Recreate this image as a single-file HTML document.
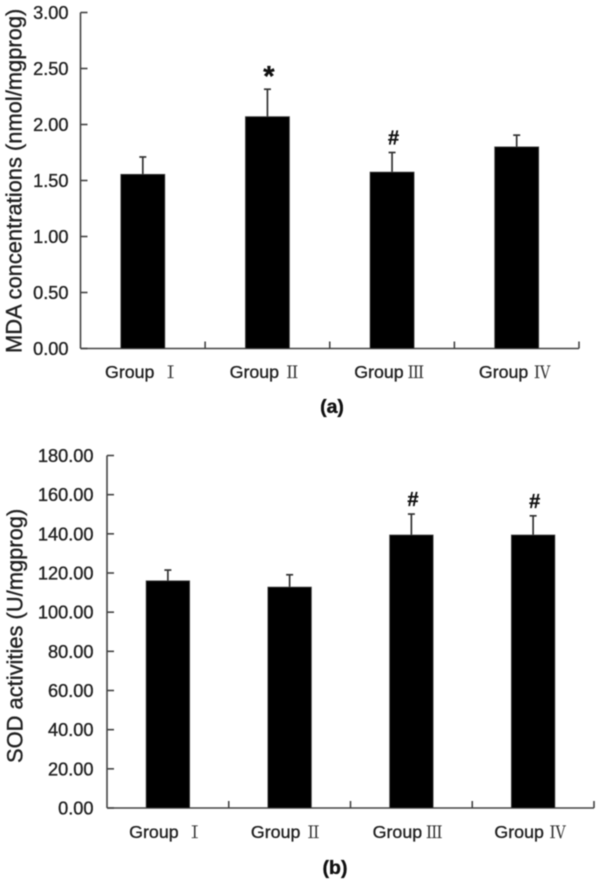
<!DOCTYPE html>
<html lang="en">
<head>
<meta charset="utf-8">
<title>MDA concentrations and SOD activities by group</title>
<style>
  html, body { margin: 0; padding: 0; background: #fff; }
  body { width: 600px; height: 881px; overflow: hidden; }
  svg { display: block; filter: blur(0.5px); }
  text { font-family: "Liberation Sans", Arial, sans-serif; fill: #222; stroke: #222; stroke-width: 0.35px; }
  .roman { font-family: "Noto Serif CJK SC", "Liberation Serif", serif; fill: #333; stroke: #333; stroke-width: 0.2px; }
</style>
</head>
<body>
<svg id="figure" width="600" height="881" viewBox="0 0 600 881" xmlns="http://www.w3.org/2000/svg"></svg>
<script>
// Shared categories
const groupNames = ['Group', 'Group', 'Group', 'Group'];
const groupNumerals = ['\u2160', '\u2161', '\u2162', '\u2163'];

// Panel (a): MDA
const mdaValues = [1.555, 2.07, 1.575, 1.80];
const mdaErrorTops = [1.71, 2.315, 1.75, 1.905];
const mdaMarks = ['', '*', '#', ''];
const mdaTicks = [0, 0.5, 1, 1.5, 2, 2.5, 3];
const mdaTickLabels = ['0.00', '0.50', '1.00', '1.50', '2.00', '2.50', '3.00'];

// Panel (b): SOD
const sodValues = [116, 112.8, 139.4, 139.4];
const sodErrorTops = [121.5, 119.1, 150.1, 149.2];
const sodMarks = ['', '', '#', '#'];
const sodTicks = [0, 20, 40, 60, 80, 100, 120, 140, 160, 180];
const sodTickLabels = ['0.00', '20.00', '40.00', '60.00', '80.00', '100.00', '120.00', '140.00', '160.00', '180.00'];

const NS = 'http://www.w3.org/2000/svg';
const figure = document.getElementById('figure');

function make(tag, attrs, parent) {
  const el = document.createElementNS(NS, tag);
  for (const k in attrs) el.setAttribute(k, attrs[k]);
  parent.appendChild(el);
  return el;
}

function drawPanel(p) {
  const g = make('g', {}, figure);
  
  

  const yScale = v => p.y0 - (v / p.yMax) * (p.y0 - p.yTop);
  const step = (p.x1 - p.x0) / p.values.length;
  const xCenter = i => p.x0 + step * (i + 0.5);
  const axisStyle = { stroke: '#444', 'stroke-width': 1.6, fill: 'none' };

  const yAxis = make('line', { x1: p.x0, x2: p.x0, y1: yScale(p.yMax), y2: p.y0, ...axisStyle }, g);
  
  

  const xAxis = make('line', { x1: p.x0, x2: p.x1, y1: p.y0, y2: p.y0, ...axisStyle }, g);
  
  

  p.ticks.forEach((t, i) => {
    const y = yScale(t);
    const tick = make('line', { x1: p.x0, x2: p.x0 + 7, y1: y, y2: y, ...axisStyle }, g);
    
    
    const label = make('text', { x: p.tickLabelX, y: y + 6.5, 'text-anchor': 'end', 'font-size': 18.2 }, g);
    
    
    label.textContent = p.tickLabels[i];
  });

  p.values.forEach((v, i) => {
    const tx = p.x0 + step * (i + 1);
    const tick = make('line', { x1: tx, x2: tx, y1: p.y0, y2: p.y0 - 7, ...axisStyle }, g);
    
    

    const cx = xCenter(i);
    const top = yScale(v);
    const errTop = yScale(p.errorTops[i]);

    const err = make('line', { x1: cx, x2: cx, y1: errTop, y2: top, stroke: '#333', 'stroke-width': 1.7 }, g);
    
    

    const cap = make('line', { x1: cx - 3.5, x2: cx + 3.5, y1: errTop, y2: errTop, stroke: '#333', 'stroke-width': 1.7 }, g);
    
    

    const bar = make('rect', { x: cx - p.barWidth / 2, y: top, width: p.barWidth, height: p.y0 - top, fill: '#000', stroke: '#444', 'stroke-width': 0.8 }, g);
    
    

    if (p.marks[i]) {
      const isStar = p.marks[i] === '*';
      const mark = make('text', { x: cx + 1.5, y: errTop - (isStar ? 3 : 8), 'text-anchor': 'middle', 'font-size': isStar ? 29 : 20, 'font-weight': 'bold' }, g);
      
      
      mark.style.fill = '#111';
      mark.style.stroke = '#111';
      mark.textContent = p.marks[i];
    }

    const catLabel = make('text', { x: cx - p.catOffset, y: p.catY, 'font-size': 17.8 }, g);
    
    
    const name = make('tspan', {}, catLabel);
    name.textContent = groupNames[i] + ' ';
    const numeral = make('tspan', { class: 'roman', dx: [3, 0, -1, 1][i], 'font-size': 16.5 }, catLabel);
    numeral.textContent = groupNumerals[i];
  });

  const title = make('text', { transform: 'translate(' + p.titleX + ',' + p.titleY + ') rotate(-90)', 'font-size': 21.9 }, g);
  
  
  title.textContent = p.title;

  const caption = make('text', { x: p.captionX, y: p.captionY, 'text-anchor': 'middle', 'font-size': 19.5, 'font-weight': 'bold' }, g);
  
  
  caption.style.fill = '#111';
  caption.style.stroke = '#111';
  caption.textContent = p.caption;
}

drawPanel({
  id: 'mda', values: mdaValues, errorTops: mdaErrorTops, marks: mdaMarks,
  ticks: mdaTicks, tickLabels: mdaTickLabels, yMax: 3,
  x0: 80.5, x1: 579, yTop: 12.5, y0: 348.5, barWidth: 44,
  tickLabelX: 68.5, catOffset: 37.8, catY: 378,
  title: 'MDA concentrations (nmol/mgprog)', titleX: 21.5, titleY: 353,
  caption: '(a)', captionX: 332, captionY: 413
});

drawPanel({
  id: 'sod', values: sodValues, errorTops: sodErrorTops, marks: sodMarks,
  ticks: sodTicks, tickLabels: sodTickLabels, yMax: 180,
  x0: 107, x1: 594, yTop: 455.5, y0: 808, barWidth: 43.5,
  tickLabelX: 93.5, catOffset: 38.7, catY: 838,
  title: 'SOD activities (U/mgprog)', titleX: 22.5, titleY: 763,
  caption: '(b)', captionX: 335, captionY: 874
});
</script>
</body>
</html>
